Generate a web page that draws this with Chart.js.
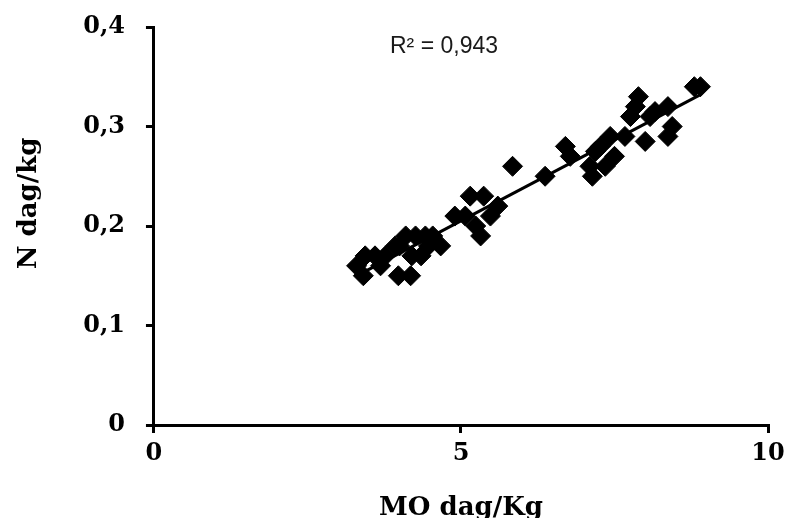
<!DOCTYPE html>
<html>
<head>
<meta charset="utf-8">
<script src="https://cdn.jsdelivr.net/npm/chart.js@4.4.1/dist/chart.umd.min.js"></script>
<style>
    html, body { margin: 0; padding: 0; background: #fff; }
    #wrap { width: 788px; height: 518px; }
</style>
</head>
<body>
<div id="wrap"><canvas id="chartScatter" width="788" height="518"></canvas></div>
<script>
// MO (dag/Kg) and N (dag/kg) readings
var moValues = [3.30, 3.41, 3.44, 3.60, 3.69, 3.77, 3.93, 3.98, 4.00, 4.10, 4.18, 4.20, 4.26, 4.35, 4.42, 4.47, 4.54, 4.67,
    4.90, 5.07, 5.15, 5.24, 5.32, 5.37, 5.48, 5.60, 5.84, 6.37,
    6.70, 6.78, 7.10, 7.14, 7.19, 7.27, 7.35, 7.43, 7.50, 7.67, 7.76, 7.84, 7.89, 8.00, 8.08, 8.16, 8.37, 8.37, 8.44, 8.80, 8.90];
var nValues = [0.16, 0.15, 0.17, 0.17, 0.16, 0.17, 0.18, 0.15, 0.18, 0.19, 0.15, 0.17, 0.19, 0.17, 0.19, 0.18, 0.19, 0.18,
    0.21, 0.21, 0.23, 0.20, 0.19, 0.23, 0.21, 0.22, 0.26, 0.25,
    0.28, 0.27, 0.26, 0.25, 0.275, 0.28, 0.26, 0.29, 0.27, 0.29, 0.31, 0.32, 0.33, 0.285, 0.31, 0.315, 0.32, 0.29, 0.30, 0.34, 0.34];
var xTicks = [0, 5, 10];
var yTicks = [0, 0.1, 0.2, 0.3, 0.4];
var rSquared = 'R² = 0,943';

function toComma(v) {
    return String(v).replace('.', ',');
}

// least squares line over the measured range
function trendLine(xs, ys) {
    var n = xs.length, sx = 0, sy = 0, sxx = 0, sxy = 0;
    for (var i = 0; i < n; i++) {
        sx += xs[i]; sy += ys[i];
        sxx += xs[i] * xs[i]; sxy += xs[i] * ys[i];
    }
    var b = (n * sxy - sx * sy) / (n * sxx - sx * sx);
    var a = (sy - b * sx) / n;
    var x0 = Math.min.apply(null, xs), x1 = Math.max.apply(null, xs);
    return [{x: x0, y: a + b * x0}, {x: x1, y: a + b * x1}];
}

var points = moValues.map(function (v, i) { return {x: v, y: nValues[i]}; });

var rLabel = {
    id: 'rLabel',
    afterDraw: function (chart) {
        var ctx = chart.ctx;
        ctx.save();
        ctx.font = '23px "Liberation Sans", Arial, sans-serif';
        ctx.fillStyle = '#1a1a1a';
        ctx.textAlign = 'left';
        ctx.textBaseline = 'middle';
        ctx.fillText(rSquared, 390, 47);
        ctx.restore();
    }
};

var tickFont = {family: '"DejaVu Serif", serif', size: 24, weight: 'bold'};
var titleFont = {family: '"DejaVu Serif", serif', size: 26, weight: 'bold'};

var ctxScatter = document.getElementById('chartScatter').getContext('2d');
var chartScatter = new Chart(ctxScatter, {
    type: 'scatter',
    data: {
        datasets: [{
            data: points,
            pointStyle: 'rectRot',
            pointRadius: 10,
            pointHoverRadius: 10,
            backgroundColor: '#000',
            borderColor: '#000',
            borderWidth: 1,
            order: 2
        }, {
            data: trendLine(moValues, nValues),
            showLine: true,
            borderColor: '#000',
            borderWidth: 3,
            pointRadius: 0,
            order: 1
        }]
    },
    options: {
        responsive: false,
        animation: false,
        layout: {padding: {left: 14, right: 0, top: 2, bottom: -6}},
        plugins: {
            legend: {display: false},
            tooltip: {enabled: false}
        },
        scales: {
            x: {
                type: 'linear',
                min: 0,
                max: 10,
                afterBuildTicks: function (axis) {
                    axis.ticks = xTicks.map(function (v) { return {value: v}; });
                },
                afterFit: function (axis) {
                    axis.paddingRight = 20;
                },
                grid: {display: true, drawOnChartArea: false, drawTicks: true, tickLength: 8, color: '#000', lineWidth: 3},
                border: {display: true, color: '#000', width: 3},
                ticks: {color: '#000', font: tickFont, padding: 6, maxRotation: 0},
                title: {display: true, text: 'MO dag/Kg', color: '#000', font: titleFont, padding: {top: 19, bottom: 0}}
            },
            y: {
                type: 'linear',
                min: 0,
                max: 0.4,
                afterBuildTicks: function (axis) {
                    axis.ticks = yTicks.map(function (v) { return {value: v}; });
                },
                afterFit: function (axis) {
                    axis.paddingTop = 27;
                },
                grid: {display: true, drawOnChartArea: false, drawTicks: true, tickLength: 8, color: '#000', lineWidth: 3},
                border: {display: true, color: '#000', width: 3},
                ticks: {color: '#000', font: tickFont, padding: 21, callback: function (v) { return toComma(v); }},
                // leading spaces lift the rotated title a little, as in the original
                title: {display: true, text: '     N dag/kg', color: '#000', font: titleFont, padding: {top: 0, bottom: 17}}
            }
        }
    },
    plugins: [rLabel]
});
</script>
</body>
</html>
